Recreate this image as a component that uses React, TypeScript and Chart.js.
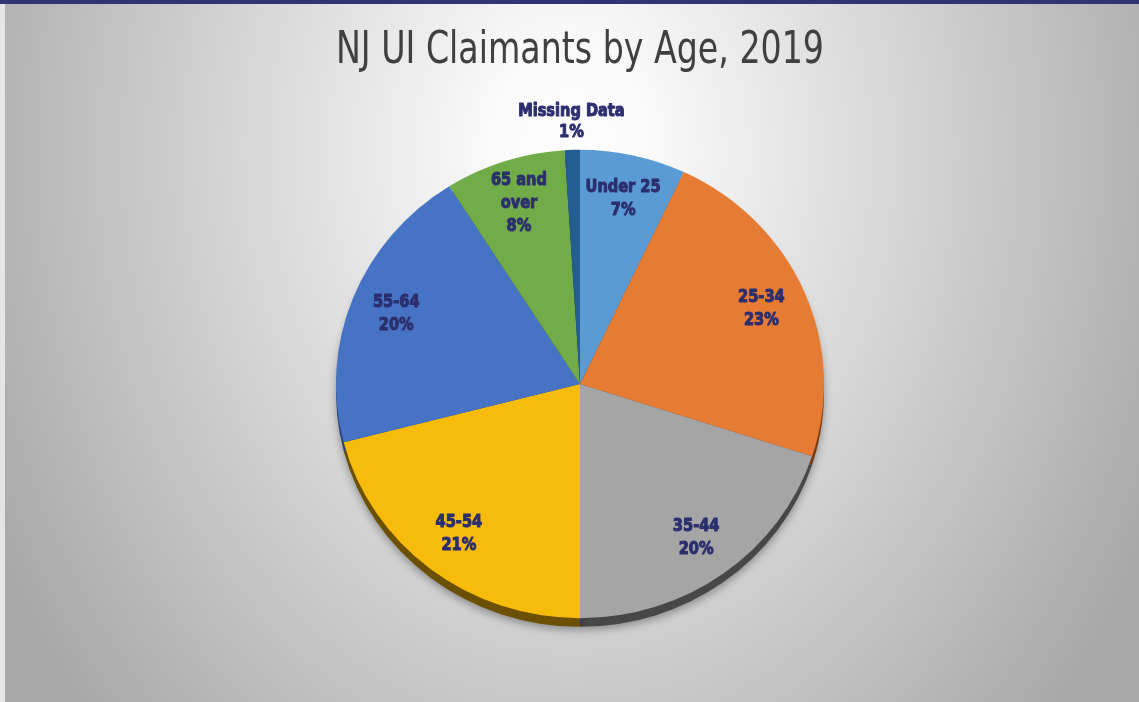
import React, { useEffect, useRef } from 'react';
import { Chart, registerables } from 'chart.js';

Chart.register(...registerables);

const categories = ['Under 25', '25-34', '35-44', '45-54', '55-64', '65 and over', 'Missing Data'];
const shares = [7, 23, 20, 21, 20, 8, 1];
const labelNameLines = [['Under 25'], ['25-34'], ['35-44'], ['45-54'], ['55-64'], ['65 and', 'over'], ['Missing Data']];
const sliceColors = ['#5B9BD5', '#E67C33', '#A5A5A5', '#F6BB0B', '#4673C4', '#71AC48', '#245D8F'];
const edgeColors = ['#2F5A82', '#7A3C12', '#474747', '#6A5000', '#27457A', '#3E6427', '#14344F'];
const titleText = 'NJ UI Claimants by Age, 2019';

const FONT = "'DejaVu Sans Condensed', 'Liberation Sans Narrow', sans-serif";
const Y_SCALE = 0.96;

export default function App() {
  const canvasRef = useRef<HTMLCanvasElement | null>(null);

  useEffect(() => {
    const canvas = canvasRef.current;
    if (!canvas) return;

    const backgroundPlugin = {
      id: 'bgPlugin',
      beforeDraw(chart: any) {
        const { ctx, width, height } = chart;
        ctx.save();
        const cx = width / 2;
        const cy = 150;
        ctx.translate(cx, cy);
        ctx.scale(1, 1.3);
        const g = ctx.createRadialGradient(0, 0, 0, 0, 0, 650);
        g.addColorStop(0, '#FDFDFD');
        g.addColorStop(0.12, '#FAFAFA');
        g.addColorStop(1, '#A8A8A8');
        ctx.fillStyle = g;
        ctx.fillRect(-cx - 10, -cy / 1.3 - 10, width + 20, height / 1.3 + 20);
        ctx.restore();
        ctx.save();
        ctx.fillStyle = '#2E3574';
        ctx.fillRect(0, 0, width, 4);
        ctx.fillStyle = 'rgba(235,235,235,0.9)';
        ctx.fillRect(0, 4, 5, height - 4);
        ctx.restore();
      },
    };

    const pieFxPlugin = {
      id: 'pieFx',
      beforeDatasetsDraw(chart: any) {
        const { ctx } = chart;
        const meta = chart.getDatasetMeta(0);
        const first = meta.data[0];
        if (!first) return;
        const cx = first.x;
        const cy = first.y;
        ctx.save();
        ctx.translate(cx, cy);
        ctx.scale(1, Y_SCALE);
        ctx.translate(-cx, -cy);
        ctx.save();
        ctx.shadowColor = 'rgba(0,0,0,0.35)';
        ctx.shadowBlur = 8;
        ctx.shadowOffsetY = 3;
        meta.data.forEach((el: any, i: number) => {
          ctx.beginPath();
          ctx.moveTo(el.x, el.y + 9);
          ctx.arc(el.x, el.y + 9, el.outerRadius, el.startAngle, el.endAngle);
          ctx.closePath();
          ctx.fillStyle = edgeColors[i];
          ctx.fill();
        });
        ctx.restore();
      },
      afterDatasetsDraw(chart: any) {
        const { ctx } = chart;
        const meta = chart.getDatasetMeta(0);
        ctx.restore();
        ctx.save();
        ctx.fillStyle = '#2C2F6E';
        ctx.strokeStyle = '#2C2F6E';
        ctx.lineWidth = 1;
        ctx.lineJoin = 'round';
        ctx.font = `bold 18px ${FONT}`;
        ctx.textAlign = 'center';
        ctx.textBaseline = 'middle';
        meta.data.forEach((el: any, i: number) => {
          const mid = (el.startAngle + el.endAngle) / 2;
          const outside = shares[i] < 3;
          const frac = outside ? 1.12 : 0.81;
          const lineH = outside ? 21 : 23;
          const r = el.outerRadius * frac;
          const x = el.x + Math.cos(mid) * r;
          const y = el.y + Math.sin(mid) * r * Y_SCALE;
          const lines = [...labelNameLines[i], `${shares[i]}%`];
          const top = -((lines.length - 1) * lineH) / 2;
          ctx.save();
          ctx.translate(x, y);
          ctx.scale(0.9, 1);
          lines.forEach((ln, k) => {
            ctx.fillText(ln, 0, top + k * lineH);
            ctx.strokeText(ln, 0, top + k * lineH);
          });
          ctx.restore();
        });
        ctx.restore();
      },
    };

    const chart = new Chart(canvas, {
      type: 'pie',
      data: {
        labels: categories,
        datasets: [
          {
            data: shares,
            backgroundColor: sliceColors,
            borderWidth: 0,
          },
        ],
      },
      options: {
        animation: false,
        responsive: true,
        maintainAspectRatio: false,
        layout: { padding: { left: 336, right: 315, top: 0, bottom: 74 } },
        plugins: {
          legend: { display: false },
          tooltip: { enabled: false },
          title: {
            display: true,
            text: titleText,
            color: '#404040',
            font: { family: FONT, size: 45, weight: 'normal', lineHeight: 1.15 },
            padding: { top: 25, bottom: 63.2 },
          },
        },
      },
      plugins: [backgroundPlugin, pieFxPlugin],
    } as any);

    return () => chart.destroy();
  }, []);

  return (
    <div style={{ position: 'absolute', left: 0, top: 0, width: 1139, height: 702 }}>
      <canvas ref={canvasRef} />
    </div>
  );
}
